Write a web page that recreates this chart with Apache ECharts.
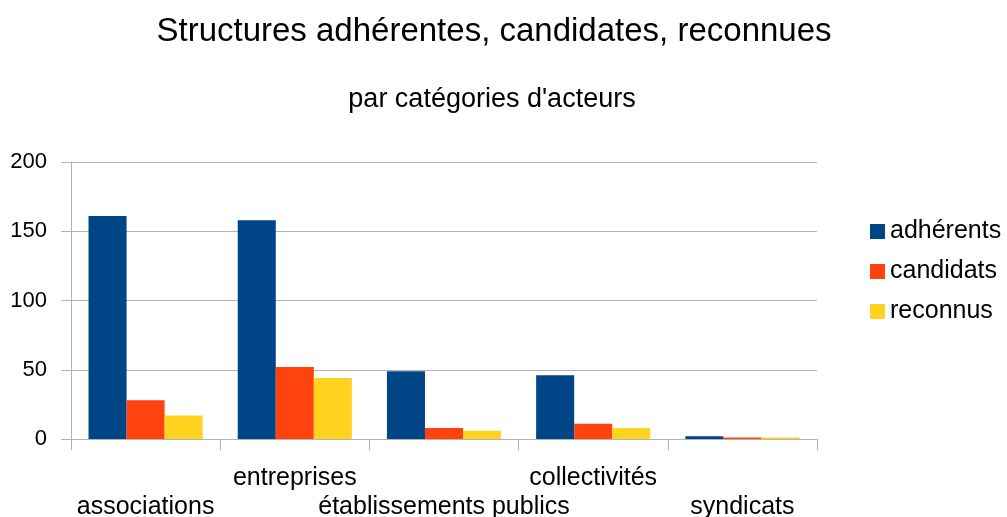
<!DOCTYPE html>
<html><head><meta charset="utf-8">
<script src="https://cdn.jsdelivr.net/npm/echarts@6/dist/echarts.min.js"></script>
<style>html,body{margin:0;padding:0;background:#fff}#c{width:1007px;height:517px}</style>
</head><body><div id="c"></div>
<script>
const categories = ['associations', 'entreprises', 'établissements publics', 'collectivités', 'syndicats'];
const adherents = [161, 158, 49, 46, 2];
const candidats = [28, 52, 8, 11, 1];
const reconnus = [17, 44, 6, 8, 1];
const seriesNames = ['adhérents', 'candidats', 'reconnus'];
const colors = ['#004586', '#ff420e', '#ffd320'];
const font = 'Liberation Sans';

const chart = echarts.init(document.getElementById('c'), null, {renderer: 'canvas'});
chart.setOption({
  animation: false,
  color: colors,
  textStyle: {fontFamily: font},
  title: [
    {text: 'Structures adhérentes, candidates, reconnues', left: 494, top: 15, textAlign: 'center', padding: 0,
     textStyle: {fontFamily: font, fontSize: 33, fontWeight: 'normal', color: '#000'}},
    {text: "par catégories d'acteurs", left: 492, top: 86, textAlign: 'center', padding: 0,
     textStyle: {fontFamily: font, fontSize: 27, fontWeight: 'normal', color: '#000'}}
  ],
  legend: {
    orient: 'vertical', left: 870, top: 219, padding: 0, itemWidth: 15, itemHeight: 15, itemGap: 15, itemTextGap: 9,
    icon: 'rect', textStyle: {fontFamily: font, fontSize: 25, color: '#000'},
    data: seriesNames
  },
  grid: {left: 71, right: 190, top: 162, bottom: 78, containLabel: false, outerBoundsMode: 'none'},
  xAxis: {
    type: 'category', data: categories,
    axisLine: {lineStyle: {color: '#b3b3b3', width: 1}},
    axisTick: {show: true, length: 11, lineStyle: {color: '#b3b3b3'}},
    splitLine: {show: false},
    axisLabel: {
      interval: 0, margin: 25, color: '#000', fontFamily: font, fontSize: 25, lineHeight: 29,
      hideOverlap: false,
      formatter: (v, i) => (i % 2 === 0 ? '\n' + v : v)
    }
  },
  yAxis: {
    type: 'value', min: 0, max: 200, interval: 50,
    axisLine: {show: true, lineStyle: {color: '#b3b3b3'}},
    axisTick: {show: true, length: 10, lineStyle: {color: '#b3b3b3'}},
    splitLine: {lineStyle: {color: '#b3b3b3', width: 1}},
    axisLabel: {margin: 24, color: '#000', fontFamily: font, fontSize: 22}
  },
  series: [
    {name: seriesNames[0], type: 'bar', data: adherents, barGap: '0%', barCategoryGap: '23.5%'},
    {name: seriesNames[1], type: 'bar', data: candidats, barGap: '0%', barCategoryGap: '23.5%'},
    {name: seriesNames[2], type: 'bar', data: reconnus, barGap: '0%', barCategoryGap: '23.5%'}
  ]
});
</script>
</body></html>
